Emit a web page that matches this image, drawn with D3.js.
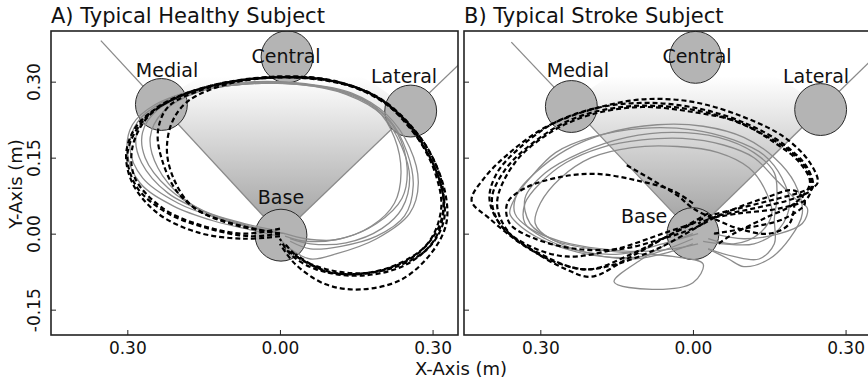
<!DOCTYPE html>
<html>
<head>
<meta charset="utf-8">
<script src="https://cdn.jsdelivr.net/npm/d3@7"></script>
<style>
  body { margin: 0; background: #fff; }
  text { font-family: "DejaVu Sans", sans-serif; fill: #111; }
</style>
</head>
<body>
<div id="chart"></div>
<script>
// ---- data (metres) ----
var xTicks = [-0.3, 0.0, 0.3];
var yTicks = [-0.15, 0.0, 0.15, 0.3];
var targetNames = ["Medial", "Central", "Lateral", "Base"];

var healthyTargets = [[-0.233, 0.255], [0.014, 0.349], [0.257, 0.242], [0.002, -0.003]];
var strokeTargets = [[-0.239, 0.251], [0.005, 0.348], [0.251, 0.245], [0.0, 0.0]];

var healthyLabels = [[-0.222, 0.310], [0.012, 0.336], [0.244, 0.297], [0.002, 0.058]];
var strokeLabels = [[-0.226, 0.309], [0.008, 0.336], [0.242, 0.297], [-0.096, 0.022]];

// ends of the two rays (medial side, lateral side)
var healthyRays = [[-0.352, 0.381], [0.377, 0.358]];
var strokeRays = [[-0.357, 0.378], [0.43, 0.42]];

var healthySolid = [
  [[0.01,0.0],[-0.05,0.012],[-0.12,0.03],[-0.2,0.06],[-0.27,0.11],[-0.295,0.17],[-0.28,0.22],[-0.23,0.26],[-0.15,0.288],[-0.05,0.3],[0.05,0.296],[0.14,0.278],[0.21,0.235],[0.255,0.17],[0.272,0.1],[0.255,0.04],[0.19,-0.01],[0.11,-0.04],[0.06,-0.05],[0.02,-0.03],[0.0,-0.01]],
  [[0.0,0.0],[-0.06,0.015],[-0.14,0.04],[-0.22,0.08],[-0.272,0.14],[-0.283,0.19],[-0.26,0.235],[-0.2,0.27],[-0.1,0.292],[0.0,0.297],[0.1,0.287],[0.18,0.255],[0.23,0.2],[0.25,0.13],[0.24,0.07],[0.19,0.02],[0.12,-0.01],[0.05,-0.015],[0.01,-0.005]],
  [[0.0,0.005],[-0.07,0.02],[-0.15,0.045],[-0.22,0.09],[-0.265,0.15],[-0.27,0.2],[-0.24,0.245],[-0.17,0.278],[-0.07,0.295],[0.03,0.295],[0.12,0.28],[0.19,0.245],[0.225,0.19],[0.238,0.12],[0.225,0.06],[0.18,0.015],[0.11,-0.012],[0.05,-0.01],[0.01,0.0]],
  [[0.0,-0.005],[-0.06,0.008],[-0.13,0.025],[-0.21,0.055],[-0.275,0.1],[-0.3,0.16],[-0.29,0.215],[-0.245,0.255],[-0.16,0.285],[-0.06,0.298],[0.05,0.295],[0.15,0.272],[0.215,0.225],[0.25,0.16],[0.262,0.095],[0.245,0.035],[0.19,-0.005],[0.12,-0.025],[0.06,-0.03],[0.02,-0.015]],
  [[0.01,0.0],[-0.05,0.01],[-0.12,0.03],[-0.19,0.07],[-0.24,0.13],[-0.255,0.19],[-0.23,0.24],[-0.16,0.28],[-0.06,0.296],[0.04,0.294],[0.13,0.275],[0.2,0.235],[0.24,0.17],[0.255,0.11],[0.24,0.05],[0.2,0.01],[0.13,-0.018],[0.06,-0.02],[0.02,-0.01]]
];

var healthyDashed = [
  [[0.0,0.0],[-0.06,-0.005],[-0.14,0.01],[-0.22,0.04],[-0.28,0.09],[-0.3,0.15],[-0.285,0.2],[-0.24,0.25],[-0.16,0.285],[-0.06,0.305],[0.04,0.308],[0.13,0.295],[0.2,0.265],[0.26,0.21],[0.3,0.15],[0.325,0.08],[0.327,0.02],[0.3,-0.035],[0.24,-0.09],[0.16,-0.11],[0.09,-0.1],[0.03,-0.06],[0.0,-0.02]],
  [[0.0,0.01],[-0.07,0.0],[-0.15,0.015],[-0.23,0.05],[-0.285,0.11],[-0.29,0.17],[-0.26,0.23],[-0.2,0.27],[-0.11,0.298],[0.0,0.31],[0.1,0.303],[0.19,0.27],[0.25,0.22],[0.295,0.16],[0.32,0.09],[0.315,0.02],[0.27,-0.04],[0.19,-0.075],[0.11,-0.078],[0.04,-0.05],[0.01,-0.02]],
  [[0.0,0.0],[-0.08,0.015],[-0.15,0.04],[-0.2,0.08],[-0.23,0.14],[-0.24,0.2],[-0.22,0.25],[-0.15,0.285],[-0.05,0.305],[0.06,0.306],[0.15,0.287],[0.22,0.247],[0.27,0.19],[0.305,0.12],[0.317,0.05],[0.29,-0.02],[0.22,-0.065],[0.14,-0.08],[0.07,-0.07],[0.02,-0.04],[0.0,-0.01]],
  [[0.0,0.0],[-0.1,0.022],[-0.17,0.052],[-0.205,0.1],[-0.222,0.16],[-0.212,0.22],[-0.18,0.262],[-0.1,0.296],[0.0,0.31],[0.1,0.302],[0.19,0.27],[0.25,0.215],[0.3,0.14],[0.322,0.06],[0.305,-0.01],[0.25,-0.06],[0.17,-0.082],[0.09,-0.075],[0.03,-0.04]],
  [[0.0,-0.005],[-0.07,-0.01],[-0.16,0.002],[-0.24,0.04],[-0.29,0.1],[-0.302,0.16],[-0.28,0.215],[-0.22,0.26],[-0.13,0.293],[-0.02,0.308],[0.09,0.304],[0.18,0.275],[0.245,0.225],[0.29,0.16],[0.318,0.09],[0.322,0.025],[0.29,-0.03],[0.22,-0.068],[0.14,-0.078],[0.06,-0.06],[0.01,-0.03]]
];

var strokeSolid = [
  [[0.0,-0.01],[-0.05,-0.03],[-0.1,-0.045],[-0.18,-0.045],[-0.25,-0.03],[-0.31,-0.005],[-0.345,0.02],[-0.36,0.04],[-0.35,0.07],[-0.32,0.11],[-0.27,0.16],[-0.2,0.19],[-0.1,0.208],[0.0,0.205],[0.08,0.185],[0.14,0.155],[0.175,0.11],[0.19,0.06],[0.17,0.01],[0.12,-0.02],[0.06,-0.02],[0.02,-0.015]],
  [[0.01,0.0],[-0.06,-0.02],[-0.14,-0.04],[-0.22,-0.035],[-0.29,-0.01],[-0.33,0.02],[-0.33,0.06],[-0.3,0.1],[-0.25,0.14],[-0.18,0.17],[-0.1,0.185],[-0.02,0.188],[0.06,0.175],[0.12,0.15],[0.16,0.11],[0.2,0.07],[0.225,0.05],[0.215,0.02],[0.17,0.0],[0.1,-0.01],[0.04,0.0]],
  [[0.0,0.0],[-0.05,-0.02],[-0.1,-0.05],[-0.155,-0.095],[-0.08,-0.11],[0.0,-0.097],[0.02,-0.06],[-0.04,-0.045],[-0.1,-0.04],[-0.2,-0.03],[-0.28,-0.01],[-0.31,0.02],[-0.3,0.06],[-0.26,0.11],[-0.2,0.15],[-0.12,0.17],[-0.03,0.172],[0.05,0.16],[0.11,0.13],[0.14,0.09],[0.155,0.04],[0.13,0.0],[0.08,-0.02],[0.03,-0.01]],
  [[0.01,-0.02],[-0.04,-0.03],[-0.1,-0.035],[-0.18,-0.03],[-0.26,-0.015],[-0.32,0.01],[-0.35,0.04],[-0.345,0.08],[-0.31,0.12],[-0.25,0.165],[-0.17,0.198],[-0.07,0.215],[0.02,0.212],[0.1,0.19],[0.16,0.15],[0.2,0.1],[0.215,0.04],[0.19,-0.01],[0.15,-0.05],[0.1,-0.065],[0.07,-0.05],[0.03,-0.03]],
  [[0.0,-0.02],[-0.06,-0.04],[-0.12,-0.05],[-0.2,-0.04],[-0.27,-0.015],[-0.32,0.02],[-0.33,0.07],[-0.29,0.12],[-0.22,0.16],[-0.13,0.19],[-0.04,0.2],[0.05,0.19],[0.12,0.16],[0.16,0.12],[0.165,0.07],[0.16,0.03],[0.16,-0.02],[0.13,-0.05],[0.08,-0.045],[0.03,-0.03]]
];

var strokeDashed = [
  [[0.0,0.02],[-0.06,0.0],[-0.15,-0.03],[-0.25,-0.045],[-0.33,-0.02],[-0.38,0.02],[-0.4,0.07],[-0.385,0.12],[-0.34,0.17],[-0.27,0.22],[-0.18,0.25],[-0.08,0.258],[0.02,0.245],[0.11,0.215],[0.18,0.175],[0.225,0.13],[0.235,0.09],[0.2,0.07],[0.12,0.05],[0.05,0.035],[0.01,0.02]],
  [[0.02,0.03],[-0.04,0.0],[-0.12,-0.04],[-0.2,-0.07],[-0.26,-0.06],[-0.33,-0.025],[-0.4,0.03],[-0.435,0.065],[-0.41,0.11],[-0.36,0.16],[-0.29,0.21],[-0.2,0.245],[-0.1,0.265],[0.0,0.26],[0.1,0.23],[0.18,0.19],[0.23,0.14],[0.245,0.1],[0.22,0.085],[0.15,0.065],[0.07,0.045],[0.03,0.035]],
  [[0.03,0.04],[-0.05,-0.005],[-0.13,-0.05],[-0.2,-0.085],[-0.25,-0.07],[-0.32,-0.03],[-0.38,0.02],[-0.395,0.07],[-0.37,0.125],[-0.32,0.175],[-0.24,0.225],[-0.14,0.25],[-0.04,0.25],[0.06,0.23],[0.14,0.195],[0.2,0.155],[0.232,0.11],[0.225,0.07],[0.17,0.05],[0.09,0.04],[0.03,0.03]],
  [[0.0,0.06],[-0.04,0.085],[-0.11,0.105],[-0.19,0.118],[-0.26,0.112],[-0.33,0.09],[-0.365,0.06],[-0.36,0.02],[-0.31,-0.01],[-0.23,-0.03],[-0.14,-0.03],[-0.06,-0.01],[0.0,0.01],[0.06,0.04],[0.14,0.07],[0.2,0.085],[0.22,0.06],[0.18,0.03],[0.1,0.01],[0.04,0.0]],
  [[0.02,0.02],[-0.06,-0.025],[-0.15,-0.06],[-0.22,-0.07],[-0.3,-0.04],[-0.36,0.0],[-0.385,0.06],[-0.35,0.14],[-0.28,0.2],[-0.2,0.235],[-0.1,0.25],[0.0,0.24],[0.09,0.22],[0.16,0.18],[0.21,0.14],[0.23,0.1],[0.2,0.06],[0.14,0.03],[0.08,0.0],[0.05,-0.02]],
  [[-0.13,0.135],[-0.07,0.1],[-0.03,0.075],[0.0,0.05],[0.04,0.03],[0.09,0.01],[0.15,0.0],[0.19,0.02],[0.2,0.066]]
];

// ---- layout ----
var W = 868, H = 382;
var svg = d3.select("#chart").append("svg").attr("width", W).attr("height", H);

var panels = [
  { id: "a", title: "A) Typical Healthy Subject", left: 51, targets: healthyTargets, labels: healthyLabels,
    rays: healthyRays, solid: healthySolid, dashed: healthyDashed, yLabels: true },
  { id: "b", title: "B) Typical Stroke Subject", left: 464, targets: strokeTargets, labels: strokeLabels,
    rays: strokeRays, solid: strokeSolid, dashed: strokeDashed, yLabels: false }
];
var pw = 407, plotTop = 31, plotBottom = 335;

var defs = svg.append("defs");
var grad = defs.append("linearGradient").attr("id", "wedge")
  .attr("gradientUnits", "userSpaceOnUse")
  .attr("x1", 0).attr("x2", 0);
grad.append("stop").attr("offset", 0).attr("stop-color", "#ffffff");
grad.append("stop").attr("offset", 1).attr("stop-color", "#9c9c9c");

var fmtY = function (v) { return Math.abs(v) < 1e-9 ? "0.00" : v.toFixed(2); };
var fmtX = function (v) { return Math.abs(v).toFixed(2); };

panels.forEach(function (p) {
  var x = d3.scaleLinear().domain([-0.45, 0.35]).range([p.left, p.left + pw]);
  var y = d3.scaleLinear().domain([-0.2, 0.4]).range([plotBottom, plotTop]);
  grad.attr("y1", y(0.31)).attr("y2", y(0.0));

  defs.append("clipPath").attr("id", "clip-" + p.id)
    .append("rect").attr("x", p.left).attr("y", plotTop).attr("width", pw).attr("height", plotBottom - plotTop);

  var g = svg.append("g").attr("clip-path", "url(#clip-" + p.id + ")");
  var base = p.targets[3];

  // wedge between the two rays
  var a1 = Math.atan2(p.rays[0][1] - base[1], p.rays[0][0] - base[0]);
  var a2 = Math.atan2(p.rays[1][1] - base[1], p.rays[1][0] - base[0]);
  var R = 0.35, pts = [base];
  d3.range(0, 41).forEach(function (i) {
    var a = a1 + (a2 - a1) * i / 40;
    pts.push([base[0] + R * Math.cos(a), base[1] + R * Math.sin(a)]);
  });
  var lin = d3.line().x(function (d) { return x(d[0]); }).y(function (d) { return y(d[1]); });
  g.append("path").attr("d", lin(pts) + "Z").attr("fill", "url(#wedge)");

  g.selectAll(".ray").data(p.rays).enter().append("line")
    .attr("x1", x(base[0])).attr("y1", y(base[1]))
    .attr("x2", function (d) { return x(d[0]); }).attr("y2", function (d) { return y(d[1]); })
    .attr("stroke", "#8a8a8a").attr("stroke-width", 1.3);

  var rpx = x(0.051) - x(0);
  g.selectAll(".target").data(p.targets).enter().append("circle")
    .attr("cx", function (d) { return x(d[0]); }).attr("cy", function (d) { return y(d[1]); })
    .attr("r", rpx).attr("fill", "#b4b4b4").attr("stroke", "#2a2a2a").attr("stroke-width", 1);

  var curve = d3.line().curve(d3.curveCatmullRom.alpha(0.5))
    .x(function (d) { return x(d[0]); }).y(function (d) { return y(d[1]); });

  g.selectAll(".solid").data(p.solid).enter().append("path")
    .attr("d", curve).attr("fill", "none").attr("stroke", "#8c8c8c").attr("stroke-width", 1.3);

  g.selectAll(".dashed").data(p.dashed).enter().append("path")
    .attr("d", curve).attr("fill", "none").attr("stroke", "#000").attr("stroke-width", 2.2)
    .attr("stroke-dasharray", "5,3");

  g.selectAll(".lab").data(p.labels).enter().append("text")
    .attr("x", function (d) { return x(d[0]); }).attr("y", function (d) { return y(d[1]); })
    .attr("text-anchor", "middle").style("font-size", "19px")
    .text(function (d, i) { return targetNames[i]; });

  // frame
  svg.append("rect").attr("x", p.left).attr("y", plotTop).attr("width", pw).attr("height", plotBottom - plotTop)
    .attr("fill", "none").attr("stroke", "#222").attr("stroke-width", 1.6);

  // ticks (inward)
  var xAxis = d3.axisBottom(x).tickValues(xTicks).tickSize(-5).tickFormat(fmtX);
  var xg = svg.append("g").attr("transform", "translate(0," + plotBottom + ")").call(xAxis);
  xg.select(".domain").remove();
  xg.selectAll("line").attr("stroke", "#222");
  xg.selectAll("text").attr("y", 7).attr("dy", "0.71em").style("font-size", "17px")
    .style("font-family", "DejaVu Sans").attr("fill", "#111");

  var yAxis = d3.axisLeft(y).tickValues(yTicks).tickSize(-5).tickFormat(fmtY);
  var yg = svg.append("g").attr("transform", "translate(" + p.left + ",0)").call(yAxis);
  yg.select(".domain").remove();
  yg.selectAll("line").attr("stroke", "#222");
  if (p.yLabels) {
    yg.selectAll("text")
      .attr("x", null).attr("dy", null)
      .attr("text-anchor", "middle")
      .attr("transform", "translate(-5,0) rotate(-90)")
      .attr("y", -6)
      .style("font-size", "17px").style("font-family", "DejaVu Sans").attr("fill", "#111");
  } else {
    yg.selectAll("text").remove();
  }

  svg.append("text").attr("x", p.left).attr("y", 23).style("font-size", "21px").text(p.title);
});

svg.append("text").attr("x", 461).attr("y", 375).attr("text-anchor", "middle")
  .style("font-size", "18px").text("X-Axis (m)");
svg.append("text").attr("transform", "translate(22,184) rotate(-90)").attr("text-anchor", "middle")
  .style("font-size", "18px").text("Y-Axis (m)");
</script>
</body>
</html>
